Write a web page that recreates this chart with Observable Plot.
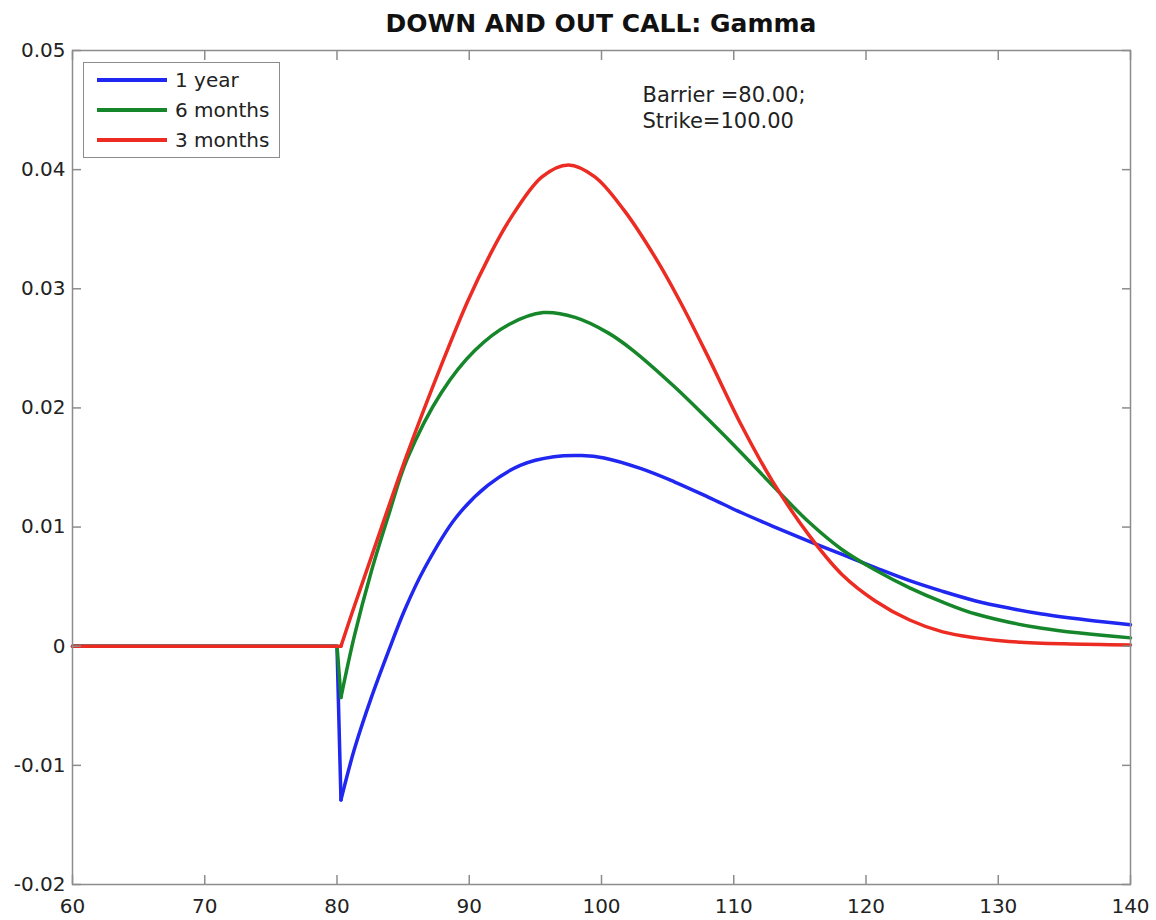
<!DOCTYPE html>
<html>
<head>
<meta charset="utf-8">
<script src="https://cdn.jsdelivr.net/npm/d3@7"></script>
<script src="https://cdn.jsdelivr.net/npm/@observablehq/plot@0.6"></script>
<style>
  body { margin: 0; background: #fff; font-family: "DejaVu Sans", sans-serif; }
  #wrap { position: relative; width: 1156px; height: 920px; overflow: hidden; }
  #title { position: absolute; left: 72px; width: 1058px; top: 11px; text-align: center;
           font-weight: bold; font-size: 25px; line-height: 25px; color: #111; }
  #chart { position: absolute; left: 0; top: 40px; }
  #legend { position: absolute; left: 83px; top: 62px; width: 197px; height: 96px; box-sizing: border-box;
            border: 1.5px solid #8c8c8c; background: #fff; }
  .entry { position: absolute; left: 0; height: 24px; width: 100%; }
  .entry .swatch { position: absolute; left: 13px; top: 10px; width: 70px; height: 3.5px; }
  .entry .lbl { position: absolute; left: 91px; top: 0; font-size: 20px; line-height: 24px; color: #222; white-space: nowrap; }
</style>
</head>
<body>
<div id="wrap">
  <div id="title">DOWN AND OUT CALL: Gamma</div>
  <div id="chart"></div>
  <div id="legend"></div>
</div>
<script>
// ---- data ----
const xDomain = [60, 140];
const yDomain = [-0.02, 0.05];
const xTicks = [60, 70, 80, 90, 100, 110, 120, 130, 140];
const yTicks = [-0.02, -0.01, 0, 0.01, 0.02, 0.03, 0.04, 0.05];

const seriesNames = ["1 year", "6 months", "3 months"];
const seriesColors = ["#1f27f0", "#16862a", "#ec2b22"];

const oneYearX = [60, 80, 80.3, 81.3, 82.6, 83.9, 85.1, 86.6, 89.0, 91.4, 93.9, 96.4, 98.5, 100.2, 103.0, 105.5, 108.1, 110.6, 113.1, 115.7, 118.2, 120.7, 123.3, 125.8, 128.3, 130.8, 133.3, 136.7, 140];
const oneYearY = [0, 0, -0.0129, -0.0087, -0.0043, -0.0004, 0.0030, 0.0065, 0.0108, 0.0135, 0.0152, 0.0159, 0.0160, 0.0158, 0.0149, 0.0138, 0.0125, 0.0112, 0.0100, 0.0088, 0.0077, 0.0066, 0.0055, 0.0046, 0.0038, 0.0032, 0.0027, 0.0022, 0.0018];

const sixMonthsX = [60, 80, 80.3, 81.3, 82.6, 83.9, 85.3, 87.9, 90.4, 93.0, 95.6, 98.0, 100.5, 102.3, 105.5, 108.1, 110.6, 113.1, 115.7, 118.2, 120.7, 123.3, 125.8, 128.3, 133.3, 140];
const sixMonthsY = [0, 0, -0.0043, 0.0008, 0.0063, 0.0110, 0.0157, 0.0213, 0.0248, 0.0270, 0.0280, 0.0276, 0.0263, 0.0249, 0.0218, 0.0190, 0.0162, 0.0133, 0.0104, 0.0081, 0.0064, 0.0049, 0.0037, 0.0027, 0.0015, 0.0007];

const threeMonthsX = [60, 80.3, 81.2, 82.6, 85.3, 88.0, 89.9, 91.5, 93.0, 95.5, 97.5, 99.5, 101.7, 104.3, 106.1, 108.1, 110.6, 112.9, 115.7, 118.2, 120.7, 123.3, 125.8, 128.3, 130.8, 135, 140];
const threeMonthsY = [0, 0, 0.0030, 0.0075, 0.0161, 0.0239, 0.0290, 0.0327, 0.0357, 0.0394, 0.0404, 0.0394, 0.0366, 0.0322, 0.0286, 0.0242, 0.0185, 0.0139, 0.0093, 0.0060, 0.0038, 0.0022, 0.0012, 0.0007, 0.0004, 0.0002, 0.0001];

const kinkX = 80.3; // barrier kink: linear left of it, smooth right of it
const annotationText = "Barrier =80.00;\nStrike=100.00";
const annotationX = 103.1;
const annotationY = 0.0453;

// ---- build table ----
const xsList = [oneYearX, sixMonthsX, threeMonthsX];
const ysList = [oneYearY, sixMonthsY, threeMonthsY];
const rows = seriesNames.flatMap((name, k) => xsList[k].map((x, i) => ({series: name, x, y: ysList[k][i]})));

const frameColor = "#8c8c8c";
const yFmt = d => d === 0 ? "0" : d.toFixed(2);
const blank = () => "";

const chart = Plot.plot({
  width: 1156,
  height: 880,
  marginTop: 10,
  marginBottom: 36,
  marginLeft: 72,
  marginRight: 26,
  style: {fontFamily: '"DejaVu Sans", sans-serif', fontSize: "20px", color: "#222", background: "#fff", overflow: "visible"},
  x: {domain: xDomain},
  y: {domain: yDomain},
  color: {domain: seriesNames, range: seriesColors},
  marks: [
    Plot.line(rows.filter(d => d.x <= kinkX), {x: "x", y: "y", z: "series", stroke: "series", strokeWidth: 3.5, curve: "linear"}),
    Plot.line(rows.filter(d => d.x >= kinkX), {x: "x", y: "y", z: "series", stroke: "series", strokeWidth: 3.5, curve: "catmull-rom"}),
    Plot.frame({stroke: frameColor, strokeWidth: 1.5}),
    Plot.axisX({anchor: "bottom", ticks: xTicks, tickSize: 0, tickPadding: 14, tickFormat: d => String(d), label: null}),
    Plot.axisX({anchor: "bottom", ticks: xTicks, tickSize: 9, dy: -9, tickFormat: blank, label: null, stroke: frameColor, strokeWidth: 1.5}),
    Plot.axisX({anchor: "top", ticks: xTicks, tickSize: 9, dy: 9, tickFormat: blank, label: null, stroke: frameColor, strokeWidth: 1.5}),
    Plot.axisY({anchor: "left", ticks: yTicks, tickSize: 0, tickPadding: 7, tickFormat: yFmt, label: null}),
    Plot.axisY({anchor: "left", ticks: yTicks, tickSize: 9, dx: 9, tickFormat: blank, label: null, stroke: frameColor, strokeWidth: 1.5}),
    Plot.axisY({anchor: "right", ticks: yTicks, tickSize: 9, dx: -9, tickFormat: blank, label: null, stroke: frameColor, strokeWidth: 1.5}),
    Plot.text([annotationText], {x: annotationX, y: annotationY, text: d => d, textAnchor: "start", lineAnchor: "middle", lineHeight: 1.24, fontSize: 21, fill: "#222"})
  ]
});
document.getElementById("chart").appendChild(chart);

// ---- legend ----
const legend = document.getElementById("legend");
seriesNames.forEach((name, i) => {
  const e = document.createElement("div");
  e.className = "entry";
  e.style.top = (5 + i * 30) + "px";
  const sw = document.createElement("div");
  sw.className = "swatch";
  sw.style.background = seriesColors[i];
  const lb = document.createElement("div");
  lb.className = "lbl";
  lb.textContent = name;
  e.appendChild(sw); e.appendChild(lb);
  legend.appendChild(e);
});
</script>
</body>
</html>
